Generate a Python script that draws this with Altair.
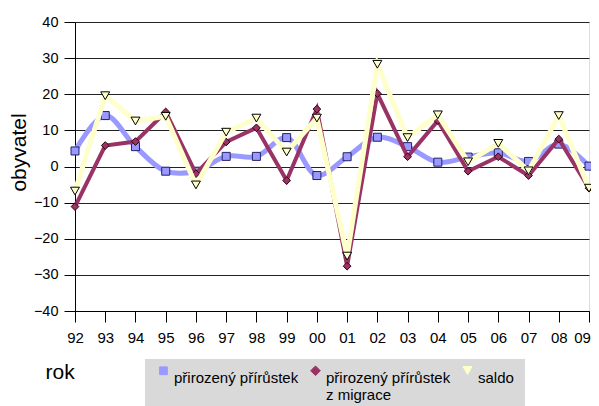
import altair as alt
import pandas as pd

years = ["92", "93", "94", "95", "96", "97", "98", "99", "00",
         "01", "02", "03", "04", "05", "06", "07", "08", "09"]
prirozeny = [4.3, 14.1, 5.5, -1.3, -1.3, 2.8, 2.8, 8.0, -2.5,
             2.7, 8.1, 5.5, 1.2, 2.6, 3.8, 1.4, 6.2, 0.1]
migrace = [-11.1, 5.8, 6.9, 15.1, -2.0, 6.8, 10.7, -3.9, 15.9,
           -27.6, 20.2, 2.7, 12.7, -1.3, 2.7, -2.5, 7.6, -6.0]
saldo = [-6.8, 19.6, 12.6, 13.9, -5.1, 9.5, 13.4, 4.0, 13.4,
         -24.8, 28.3, 8.0, 14.3, 1.3, 6.4, -1.2, 14.1, -6.0]

series_names = ["přirozený přírůstek", "přirozený přírůstek z migrace", "saldo"]
line_colors = ["#9999ff", "#993366", "#ffffcc"]
fill_colors = ["#9999ff", "#993366", "#ffffcc"]
shapes = ["square", "diamond", "triangle-down"]
# legend symbols: same shapes, raised to sit beside the first line of the labels
legend_shapes = ["M-1,-2.8H1V-0.8H-1Z",
                 "M-1.25,-1.8L0,-3.05L1.25,-1.8L0,-0.55Z",
                 "M-1.15,-2.9L1.15,-2.9L0,-0.8Z"]
stroke_w = [5, 4, 5]
marker_stroke = ["#222266", "#330011", "#000000"]
marker_size = [64, 60, 80]

rows = []
for name, vals in zip(series_names, [prirozeny, migrace, saldo]):
    for y, v in zip(years, vals):
        rows.append({"rok": y, "hodnota": v, "serie": name})
df = pd.DataFrame(rows)

x_enc = alt.X("rok:N", sort=years, scale=alt.Scale(type="point", padding=0),
              axis=alt.Axis(title="rok", labelAngle=0, labelFontSize=15, tickSize=11,
                            tickColor="#000", domainColor="#000", labelPadding=8,
                            labelOffset={"condition": {"test": "datum.value === '09'", "value": -7},
                                         "value": 0},
                            titleFontSize=21, titleFontWeight="normal", titleAlign="left",
                            titleAnchor="start", titleX=-30, titleY=67,
                            titleBaseline="alphabetic"))
y_enc = alt.Y("hodnota:Q", scale=alt.Scale(domain=[-40, 40]),
              axis=alt.Axis(title="obyvatel", values=list(range(-40, 41, 10)),
                            labelFontSize=14.5, tickSize=11, tickColor="#000",
                            domainColor="#000", gridColor="#222", gridOpacity=1,
                            labelPadding=6, titleFontSize=21, titleFontWeight="normal",
                            titleX=-46, titleY=130, titleBaseline="bottom"))

stroke_scale = alt.Scale(domain=series_names, range=line_colors)
fill_scale = alt.Scale(domain=series_names, range=fill_colors)
shape_scale = alt.Scale(domain=series_names, range=legend_shapes)

layers = []
for i, name in enumerate(series_names):
    base = alt.Chart(df).transform_filter(alt.datum.serie == name)
    line = base.mark_line(strokeWidth=stroke_w[i],
                          interpolate="catmull-rom" if i == 0 else "linear").encode(
        x=x_enc, y=y_enc,
        stroke=alt.Stroke("serie:N", scale=stroke_scale, legend=None))
    pts = base.mark_point(filled=True, opacity=1, size=marker_size[i], shape=shapes[i],
                          stroke=marker_stroke[i], strokeWidth=1).encode(
        x=x_enc, y=y_enc,
        fill=alt.Fill("serie:N", scale=fill_scale, legend=None))
    layers += [line, pts]

legend = alt.Legend(title=None, orient="none", legendX=70, legendY=337,
                    direction="horizontal", columns=3, fillColor="#d9d9d9",
                    padding=11, labelFontSize=15, symbolSize=60, labelLimit=300,
                    columnPadding=9, labelOffset=3, symbolOpacity=1,
                    symbolStrokeWidth=1, symbolStrokeColor="#222",
                    labelFont="Liberation Sans", labelColor="#000",
                    labelExpr="indexof(datum.label, 'migrace') > 0 ? ['přirozený přírůstek', 'z migrace'] : [datum.label, '']")

legend_layer = alt.Chart(df).mark_point(filled=True, size=0).encode(
    x=x_enc, y=y_enc,
    fill=alt.Fill("serie:N", scale=fill_scale, legend=legend),
    shape=alt.Shape("serie:N", scale=shape_scale, legend=legend))

chart = alt.layer(legend_layer, *layers).properties(
    width=514, height=289,
    autosize=alt.AutoSizeParams(type="none"),
    padding={"left": 67, "top": 14, "right": 2, "bottom": 95},
).configure_view(fill="#d9d9d9", stroke=None).configure(
    font="Liberation Sans"
).configure_axis(labelFont="Liberation Sans", titleFont="Liberation Sans",
                 labelColor="#000", titleColor="#000"
).configure_axisX(grid=False)

chart.save("out.html", embed_options={"renderer": "svg", "actions": False})
